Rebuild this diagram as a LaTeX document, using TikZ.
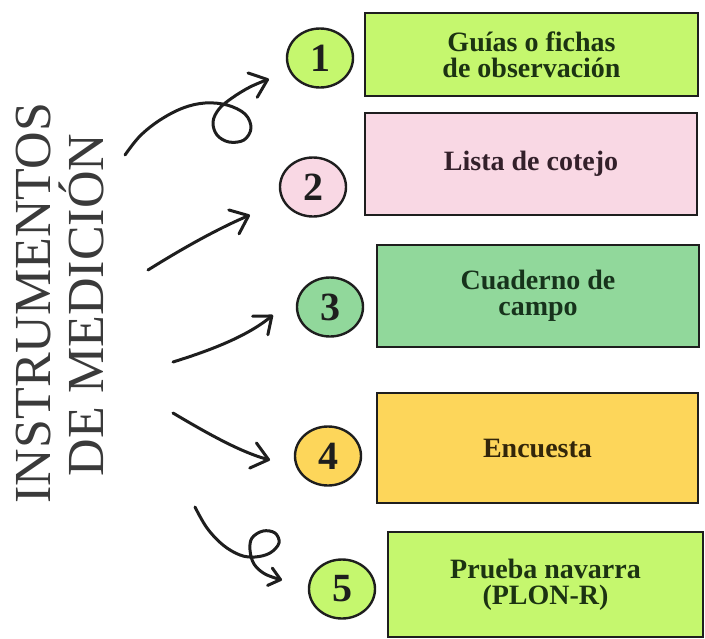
\documentclass[tikz,border=0pt]{standalone}
\usepackage{fontspec}
\setmainfont{Liberation Serif}
\usetikzlibrary{arrows.meta,shapes.geometric}
\definecolor{lime}{HTML}{C5F76E}
\definecolor{pinkbox}{HTML}{F9D8E4}
\definecolor{greenbox}{HTML}{91D89B}
\definecolor{yellowbox}{HTML}{FDD65A}
\definecolor{inkgreen}{HTML}{1C3312}
\definecolor{inkpink}{HTML}{33202A}
\definecolor{inkteal}{HTML}{17331C}
\definecolor{inkbrown}{HTML}{33260A}
\definecolor{titlegray}{HTML}{3A3A3A}
\definecolor{ink}{HTML}{1E1E1E}
\tikzset{
  itembox/.style={draw=ink, line width=1.5pt, rectangle, inner sep=0pt, align=center,
    font=\bfseries\fontsize{28}{26}\selectfont},
  numdisc/.style={draw=ink, line width=2.4pt, ellipse, inner sep=0pt,
    minimum width=66pt, minimum height=59pt, text=ink,
    font=\bfseries\fontsize{40}{40}\selectfont},
  titletext/.style={rotate=90, anchor=base, text=titlegray, inner sep=0pt,
    font=\fontsize{52}{52}\selectfont},
  arr/.style={draw=ink, line width=3pt, line cap=round, line join=round},
}
\begin{document}
\begin{tikzpicture}[x=1pt,y=-1pt]
\useasboundingbox (0,0) rectangle (705,638);
% title
\node[titletext] (t1) at (50,303) {INSTRUMENTOS};
\node[titletext] (t2) at (103,305) {DE MEDICIÓN};
% boxes
\node[itembox, fill=lime, text=inkgreen, minimum width=333pt, minimum height=83pt] (b1) at (531.5,54.5) {Guías o fichas\\de observación};
\node[itembox, fill=pinkbox, text=inkpink, minimum width=332pt, minimum height=102pt] (b2) at (531,164) {Lista de cotejo};
\node[itembox, fill=greenbox, text=inkteal, minimum width=322pt, minimum height=102pt] (b3) at (538,296) {Cuaderno de\\campo};
\node[itembox, fill=yellowbox, text=inkbrown, minimum width=321pt, minimum height=110pt] (b4) at (537.5,448) {Encuesta};
\node[itembox, fill=lime, text=inkgreen, minimum width=315pt, minimum height=105pt] (b5) at (545.5,584.5) {Prueba navarra\\(PLON-R)};
% numbers
\node[numdisc, fill=lime] (c1) at (320,58) {1};
\node[numdisc, fill=pinkbox] (c2) at (313,187) {2};
\node[numdisc, fill=greenbox] (c3) at (330,307) {3};
\node[numdisc, fill=yellowbox] (c4) at (328,456) {4};
\node[numdisc, fill=lime] (c5) at (342,589) {5};
% arrow anchors
\coordinate (s1) at (125,155); \coordinate (e1) at (269,79);
\coordinate (s2) at (148,270); \coordinate (e2) at (250,215);
\coordinate (s3) at (173,362); \coordinate (e3) at (273,315);
\coordinate (s4) at (173,413); \coordinate (e4) at (270,460);
\coordinate (s5) at (195,507); \coordinate (e5) at (282,580);
% arrows
\draw[arr, -{Straight Barb[round,length=16pt,width=26pt]}] plot[smooth, tension=0.6] coordinates {(s1) (140,136) (160,120) (183,108) (205,103) (227,105) (245,114) (251,128) (244,140) (229,142) (217,135) (213,122) (219,109) (232,98) (250,87) (e1)};
\draw[arr, -{Straight Barb[round,length=16pt,width=26pt]}] (s2) .. controls (180,250) and (215,230) .. (e2);
\draw[arr, -{Straight Barb[round,length=15pt,width=24pt]}] (s3) .. controls (205,352) and (245,338) .. (e3);
\draw[arr, -{Straight Barb[round,length=16pt,width=26pt]}] (s4) .. controls (205,432) and (240,452) .. (e4);
\draw[arr, -{Straight Barb[round,length=11pt,width=18pt]}] plot[smooth, tension=0.6] coordinates {(s5) (207,528) (223,545) (240,555) (255,557) (270,553) (279,543) (275,533) (263,531) (252,538) (250,550) (254,564) (265,574) (e5)};
\end{tikzpicture}
\end{document}
